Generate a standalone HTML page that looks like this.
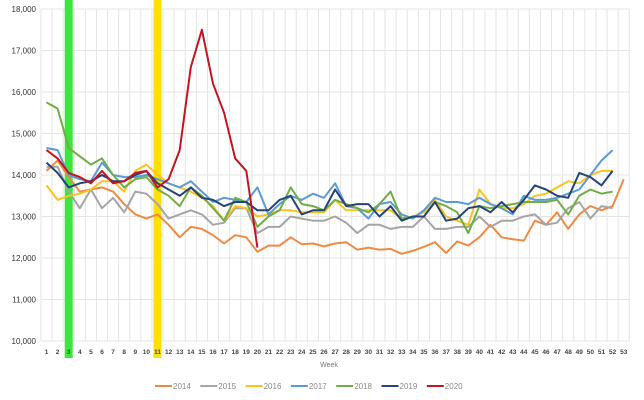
<!DOCTYPE html>
<html><head><meta charset="utf-8"><style>
body{margin:0;background:#fff;}
svg{display:block;font-family:"Liberation Sans",sans-serif;}
</style></head><body>
<svg id="chart" width="644" height="400"></svg>
<script>
const weeks = Array.from({length:53},(_,i)=>String(i+1));
const yTicks = [10000,11000,12000,13000,14000,15000,16000,17000,18000];
const seriesNames = ["2014","2015","2016","2017","2018","2019","2020"];
const seriesColors = ["#ed8b45","#a5a5a5","#fbc31c","#5b9bd5","#70ad47","#264478","#c0161f"];
const s2014 = [14100,14350,13950,13600,13650,13700,13600,13300,13050,12950,13050,12800,12500,12750,12700,12550,12350,12550,12500,12150,12300,12300,12500,12330,12350,12280,12350,12380,12200,12250,12200,12220,12100,12170,12270,12380,12120,12400,12300,12500,12800,12500,12450,12420,12900,12800,13100,12700,13050,13250,13150,13250,13900];
const s2015 = [14200,14200,13600,13200,13650,13200,13450,13100,13600,13550,13300,12950,13050,13150,13050,12800,12850,13200,13200,12600,12750,12750,13000,12950,12900,12900,13000,12850,12600,12800,12800,12700,12750,12750,13000,12700,12700,12750,12750,13000,12750,12900,12900,13000,13050,12800,12850,13200,13350,12950,13250,13200];
const s2016 = [13750,13400,13500,13550,13650,13850,13850,13600,14100,14250,14000,13800,13700,13600,13450,13250,12900,13250,13200,13000,13050,13150,13150,13100,13100,13100,13400,13150,13150,13150,13150,13150,12950,13000,13100,13400,13000,12900,12800,13650,13300,13200,13200,13300,13500,13550,13700,13850,13800,14000,14100,14100];
const s2017 = [14650,14600,14000,13900,13850,14300,14000,13950,13950,14000,13900,13800,13700,13850,13600,13350,13450,13400,13350,13700,13050,13300,13500,13400,13550,13450,13800,13250,13200,12950,13300,13350,13050,12950,13150,13450,13350,13350,13300,13450,13300,13200,13050,13500,13400,13400,13450,13550,13650,14000,14350,14600];
const s2018 = [15750,15600,14650,14450,14250,14400,14000,13700,13900,13950,13650,13500,13250,13700,13500,13200,12900,13450,13350,12750,13000,13150,13700,13300,13250,13150,13400,13300,13200,13100,13300,13600,12950,13000,13000,13350,13250,13100,12600,13250,13200,13250,13300,13350,13350,13350,13400,13050,13500,13650,13550,13600];
const s2019 = [14300,14050,13700,13800,13850,14000,13850,13850,14000,14100,13800,13650,13500,13700,13450,13400,13250,13350,13350,13150,13150,13400,13500,13050,13150,13150,13650,13250,13300,13300,13000,13250,12900,13000,13000,13350,12900,12950,13200,13250,13100,13350,13100,13400,13750,13650,13500,13450,14050,13950,13750,14100];
const s2020 = [14600,14400,14050,13950,13800,14100,13800,13850,14050,14100,13700,13900,14600,16600,17500,16200,15500,14400,14100,12250];
const allSeries = [s2014,s2015,s2016,s2017,s2018,s2019,s2020];
const markWeeks = [3,11];
const markColors = ["#3de63d","#ffe000"];

const NS="http://www.w3.org/2000/svg";
const svg=document.getElementById('chart');
const X0=46.5, STEP=11.1, YTOP=9, YBOT=341, VMIN=10000, VMAX=18000;
const x=w=>X0+(w-1)*STEP;
const y=v=>YBOT-(v-VMIN)/(VMAX-VMIN)*(YBOT-YTOP);
function mk(t,a){const e=document.createElementNS(NS,t);for(const k in a)e.setAttribute(k,a[k]);svg.appendChild(e);return e;}

for(let i=0;i<=weeks.length;i++){
  const g=mk('line',{x1:x(i+0.5),x2:x(i+0.5),y1:YTOP,y2:YBOT,stroke:'#e4e4e4','stroke-width':1});
  
  
}
yTicks.forEach(v=>{
  const g=mk('line',{x1:x(0.5),x2:x(53.5),y1:y(v),y2:y(v),stroke:'#e4e4e4','stroke-width':1});
  
  
  const t=mk('text',{x:36,y:y(v)+3,'text-anchor':'end','font-size':8,fill:'#333'});
  t.textContent=v.toLocaleString('en-US');
  
  
});
markWeeks.forEach((w,i)=>{
  const r=mk('rect',{x:x(w)-4,y:0,width:8,height:358,fill:markColors[i]});
  
  
});
weeks.forEach((w,i)=>{
  const t=mk('text',{x:x(i+1),y:354,'text-anchor':'middle','font-size':6.5,fill:'#444','font-weight':'bold'});
  t.textContent=w;
  
  
});
const xt=mk('text',{x:329,y:367,'text-anchor':'middle','font-size':7,fill:'#777'});
xt.textContent='Week';



allSeries.forEach((s,si)=>{
  const pts=s.map((v,i)=>x(i+1).toFixed(1)+','+y(v).toFixed(1)).join(' ');
  const p=mk('polyline',{points:pts,fill:'none',stroke:seriesColors[si],'stroke-width':2,'stroke-linejoin':'round'});
  
  
});

seriesNames.forEach((n,i)=>{
  const lx=155+i*45.3;
  const l=mk('line',{x1:lx,x2:lx+17,y1:386,y2:386,stroke:seriesColors[i],'stroke-width':2});
  
  
  const t=mk('text',{x:lx+18,y:389,'font-size':8,fill:'#888'});
  t.textContent=n;
  
  
});
</script>
</body></html>
